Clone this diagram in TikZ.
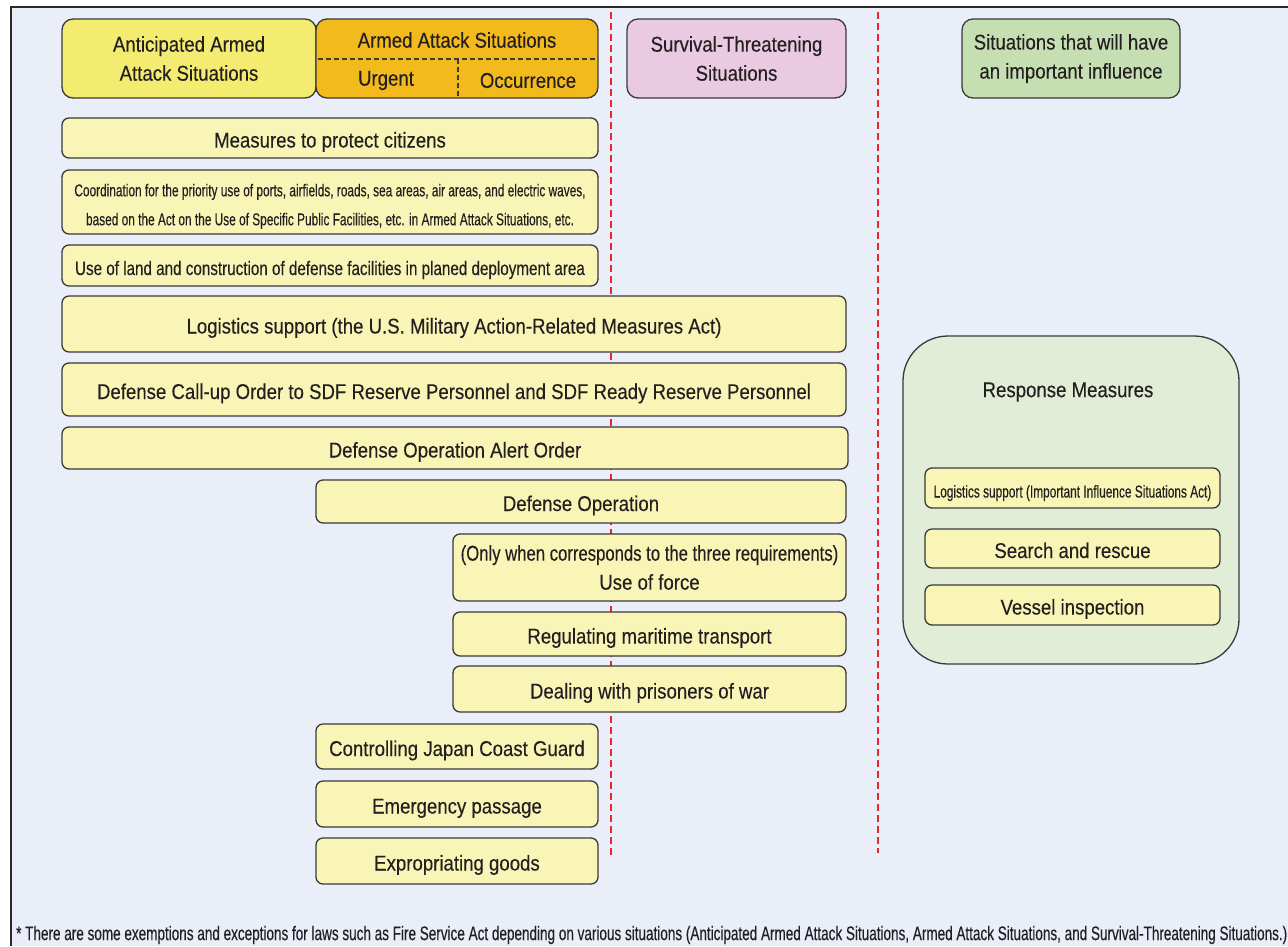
\documentclass[tikz,border=0pt]{standalone}
\usepackage{fontspec}
\setmainfont{Liberation Sans}[FakeStretch=0.87, FakeBold=0.25]
\newfontfamily\narrowfont{Liberation Sans}[FakeStretch=0.69, FakeBold=0.25]
\newfontfamily\midfont{Liberation Sans}[FakeStretch=0.78, FakeBold=0.25]
\usetikzlibrary{positioning}

\definecolor{panel}{HTML}{EAEEF9}
\definecolor{frameline}{HTML}{2A2A2A}
\definecolor{boxline}{HTML}{3A3A3A}
\definecolor{ink}{HTML}{231F20}
\definecolor{paleyellow}{HTML}{F9F5B6}
\definecolor{anticipated}{HTML}{F3EC70}
\definecolor{armed}{HTML}{F3BA1E}
\definecolor{survival}{HTML}{EACAE1}
\definecolor{influence}{HTML}{C6DFB2}
\definecolor{response}{HTML}{E2EDD7}
\definecolor{divider}{HTML}{E8262B}

\tikzset{
  basebox/.style={draw=boxline, line width=1.3pt, rounded corners=7pt,
    inner sep=0pt, outer sep=0pt, align=center, text=ink,
    font=\fontsize{21.4}{29}\selectfont},
  headbox/.style={basebox, rounded corners=11pt},
  measure/.style={basebox, fill=paleyellow},
  oneline/.style={text height=19pt, text depth=0pt},
  label/.style={text=ink, inner sep=0pt, font=\fontsize{21.4}{29}\selectfont},
  smalltext/.style={font=\narrowfont\fontsize{17.2}{29}\selectfont},
  midtext/.style={font=\midfont\fontsize{19.5}{29}\selectfont},
  sepline/.style={divider, line width=2pt, dash pattern=on 7pt off 4pt},
  innerdash/.style={boxline, line width=1.3pt, dash pattern=on 5pt off 3pt}
}

\begin{document}
\begin{tikzpicture}[x=1pt,y=-1pt]
\useasboundingbox (0,0) rectangle (1288,946);
\fill[white] (0,0) rectangle (1288,946);
\fill[panel] (11,7) rectangle (1288,946);
\draw[frameline, line width=1.5pt] (11,946) -- (11,7) -- (1288,7);

% column dividers, behind the boxes
\draw[sepline] (611,12) -- (611,858);
\draw[sepline] (878,12) -- (878,853);

% situation headers
\node[headbox, fill=anticipated, minimum width=254, minimum height=79]
  (anticipated) at (189,58.5) {Anticipated Armed\\Attack Situations};
\node[headbox, fill=armed, minimum width=282, minimum height=79]
  (armed) at (457,58.5) {};
\node[label] (armedtitle) at (457,40) {Armed Attack Situations};
\draw[innerdash] (318,59) -- (596,59);
\draw[innerdash] (458,59) -- (458,97);
\node[label] (urgent) at (386,80.5) {Urgent};
\node[label] (occurrence) at (528,80.5) {Occurrence};
\node[headbox, fill=survival, minimum width=219, minimum height=79]
  (survival) at (736.5,58.5) {Survival-Threatening\\Situations};
\node[headbox, fill=influence, minimum width=218, minimum height=79]
  (influence) at (1071,58.5) {Situations that will have\\an important influence};

% measures by situation
\node[measure, oneline, minimum width=536, minimum height=40] (citizens) at (330,138) {Measures to protect citizens};
\node[measure, smalltext, minimum width=536, minimum height=64] (coordination) at (330,202)
  {\raisebox{-3pt}[\height][\depth]{\begin{tabular}{@{}c@{}}
   Coordination for the priority use of ports, airfields, roads, sea areas, air areas, and electric waves,\\
   based on the Act on the Use of Specific Public Facilities, etc. in Armed Attack Situations, etc.
   \end{tabular}}};
\node[measure, midtext, oneline, minimum width=536, minimum height=41] (land) at (330,265.5)
  {Use of land and construction of defense facilities in planed deployment area};
\node[measure, oneline, minimum width=784, minimum height=56] (logistics) at (454,324)
  {Logistics support (the U.S. Military Action-Related Measures Act)};
\node[measure, oneline, minimum width=784, minimum height=53] (callup) at (454,389.5)
  {Defense Call-up Order to SDF Reserve Personnel and SDF Ready Reserve Personnel};
\node[measure, oneline, minimum width=786, minimum height=42] (alert) at (455,448)
  {Defense Operation Alert Order};
\node[measure, oneline, minimum width=530, minimum height=43] (operation) at (581,501.5)
  {Defense Operation};
\node[measure, minimum width=393, minimum height=67] (force) at (649.5,567.5)
  {{\midfont (Only when corresponds to the three requirements)}\\Use of force};
\node[measure, oneline, minimum width=393, minimum height=44] (maritime) at (649.5,634)
  {Regulating maritime transport};
\node[measure, oneline, minimum width=393, minimum height=46] (prisoners) at (649.5,689)
  {Dealing with prisoners of war};
\node[measure, oneline, minimum width=282, minimum height=45] (coastguard) at (457,746.5)
  {Controlling Japan Coast Guard};
\node[measure, oneline, minimum width=282, minimum height=46] (passage) at (457,804)
  {Emergency passage};
\node[measure, oneline, minimum width=282, minimum height=46] (goods) at (457,861)
  {Expropriating goods};

% response measures for important influence situations
\node[basebox, fill=response, rounded corners=45pt, minimum width=336, minimum height=328]
  (responsegroup) at (1071,500) {};
\node[label] (responsetitle) at (1068,392) {Response Measures};
\node[measure, smalltext, oneline, minimum width=295, minimum height=40] (influencelogistics) at (1072.5,488)
  {Logistics support (Important Influence Situations Act)};
\node[measure, oneline, minimum width=295, minimum height=39] (rescue) at (1072.5,548.5)
  {Search and rescue};
\node[measure, oneline, minimum width=295, minimum height=40] (inspection) at (1072.5,605)
  {Vessel inspection};

% footnote
\node[anchor=west, text=ink, inner sep=0pt, font=\narrowfont\fontsize{19.6}{22}\selectfont] (footnote) at (16,935)
  {* There are some exemptions and exceptions for laws such as Fire Service Act depending on various situations (Anticipated Armed Attack Situations, Armed Attack Situations, and Survival-Threatening Situations.)};
\end{tikzpicture}
\end{document}
